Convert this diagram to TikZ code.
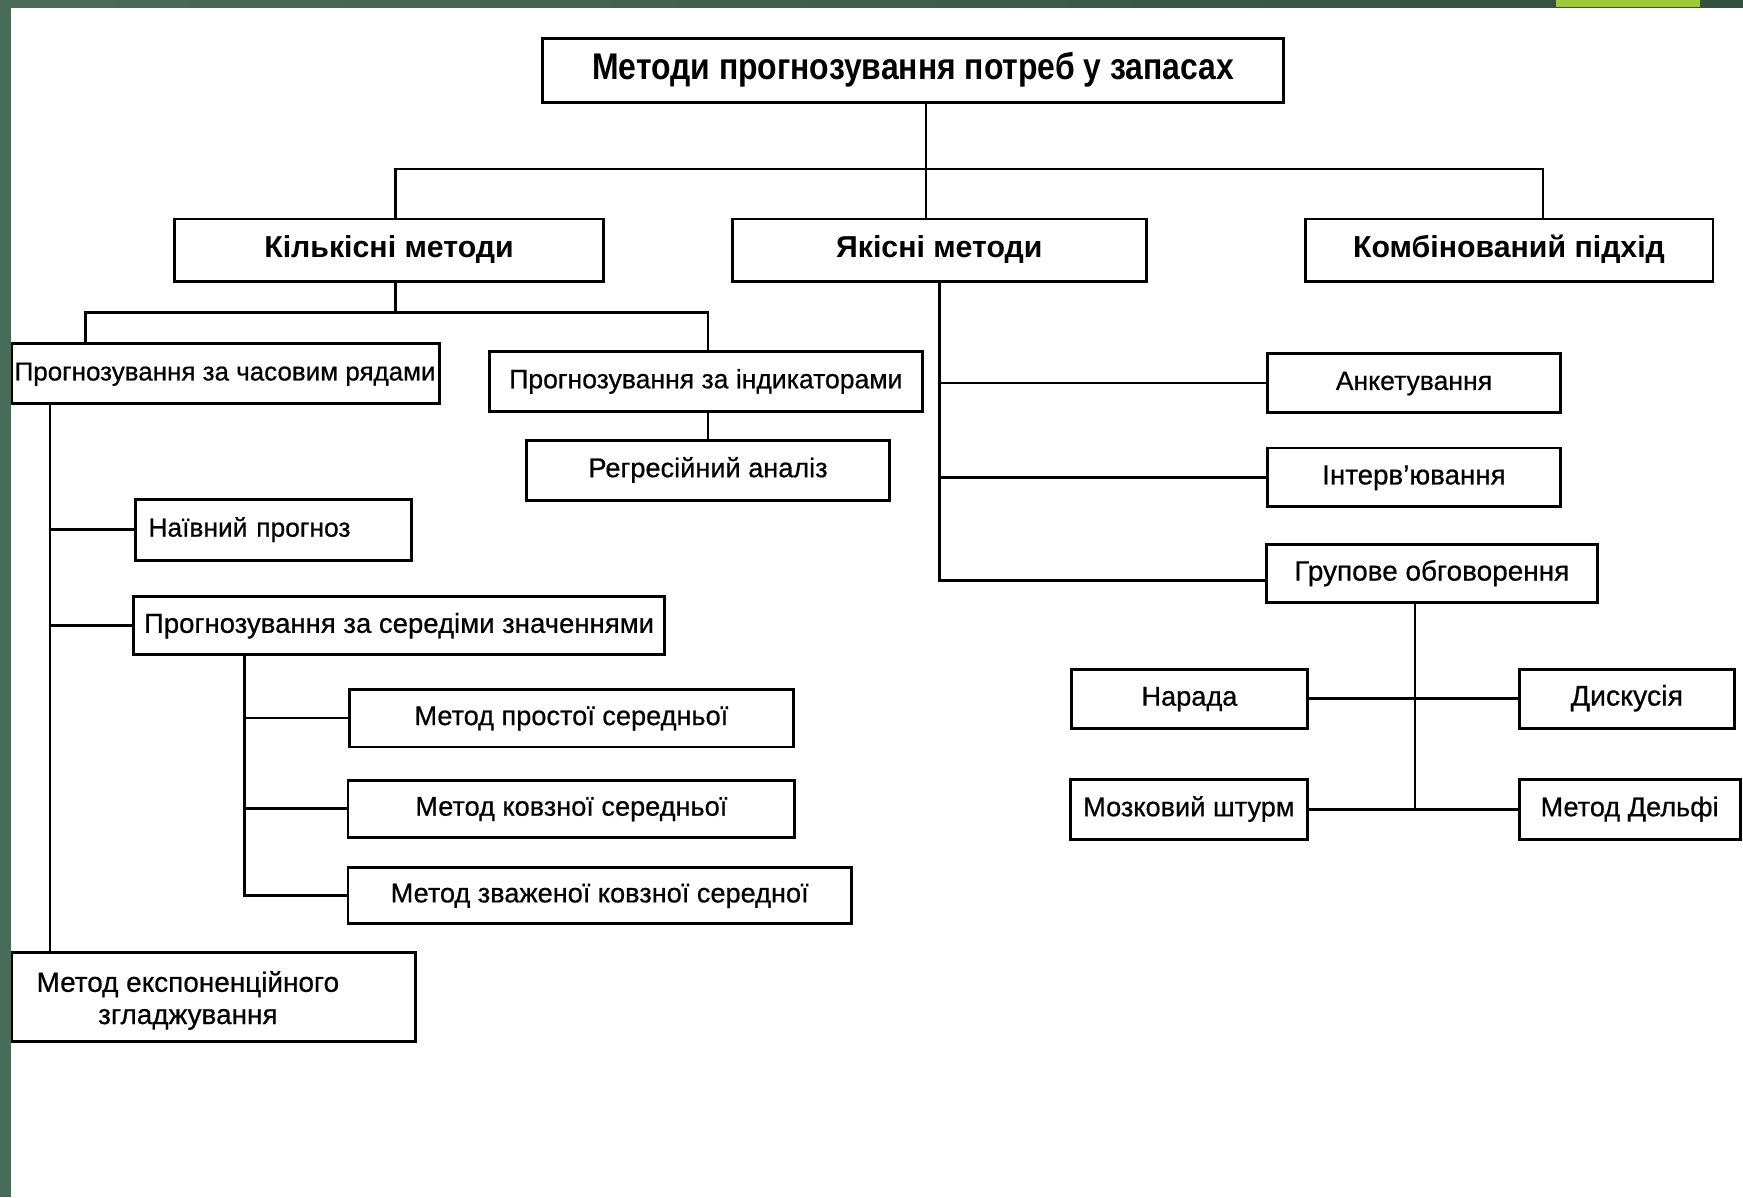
\documentclass[tikz,border=0pt]{standalone}
\usepackage{fontspec}
\setmainfont{Liberation Sans}
\newfontfamily\medfont{Liberation Sans}[FakeBold=0.6]
\newfontfamily\titlefont{Liberation Sans}[FakeStretch=0.86]
\usepackage{tikz}
\definecolor{framegreen}{HTML}{4B6B5A}
\definecolor{framedark}{HTML}{34503F}
\definecolor{barlime}{HTML}{9DC93B}

\begin{document}
\begin{tikzpicture}[x=0.02cm, y=-0.02cm]
\tikzstyle{box}=[rectangle, draw=black, line width=1.5pt, inner sep=0pt, text height=0.716em, text depth=0pt, font=\medfont\fontsize{13.9}{16.5}\selectfont]
\tikzstyle{head}=[box, font=\fontsize{15.5}{18}\selectfont\bfseries]
\tikzstyle{connect}=[line width=1.4pt, black]
  \fill[white] (0,0) rectangle (1568,1077);
  \useasboundingbox (0,0) rectangle (1568,1077);
  % top levels
  \node[head, minimum width=13.34cm, minimum height=1.14cm, text height=0.95em, font=\titlefont\fontsize{19}{21}\selectfont\bfseries] (root) at (821.5,63.5) {Методи прогнозування потреб у запасах};
  \node[head, minimum width=7.72cm, minimum height=1.12cm] (kilk) at (350,225) {Кількісні методи};
  \node[head, minimum width=7.44cm, minimum height=1.12cm] (yakis) at (845,225) {Якісні методи};
  \node[head, minimum width=7.34cm, minimum height=1.12cm] (komb) at (1357.5,225) {Комбінований підхід};
  % quantitative
  \node[box, minimum width=7.7cm, minimum height=1.08cm, font=\medfont\fontsize{13.3}{16}\selectfont] (chas) at (202.5,336) {Прогнозування за часовим рядами};
  \node[box, minimum width=7.8cm, minimum height=1.08cm, font=\medfont\fontsize{13.6}{16}\selectfont] (indyk) at (635,343) {Прогнозування за індикаторами};
  \node[box, minimum width=6.52cm, minimum height=1.08cm] (regr) at (637,423) {Регресійний аналіз};
  \node[box, minimum width=4.96cm, minimum height=1.1cm, text width=4.5cm, align=left, font=\medfont\fontsize{13.5}{16}\selectfont] (naiv) at (246,476.5) {Наївний прогноз};
  \node[box, minimum width=9.56cm, minimum height=1.04cm, font=\medfont\fontsize{14.1}{16}\selectfont] (sered) at (359,563) {Прогнозування за середіми значеннями};
  \node[box, minimum width=8cm, minimum height=1.04cm] (prost) at (514,646) {Метод простої середньої};
  \node[box, minimum width=8.04cm, minimum height=1.02cm] (kovz) at (514,727.5) {Метод ковзної середньої};
  \node[box, minimum width=9.06cm, minimum height=1.02cm] (zvazh) at (539.5,805.5) {Метод зваженої ковзної середної};
  \node[box, minimum width=7.28cm, minimum height=1.6cm,
        label={[align=center, xshift=-0.46cm, yshift=-0.06cm, font=\medfont\fontsize{14.3}{16.5}\selectfont]center:Метод експоненційного\\згладжування}] (expon) at (192,897) {};
  % qualitative
  \node[box, minimum width=5.28cm, minimum height=1.06cm, font=\medfont\fontsize{13.6}{16}\selectfont] (ank) at (1272,344.5) {Анкетування};
  \node[box, minimum width=5.28cm, minimum height=1.06cm, font=\medfont\fontsize{14.2}{16}\selectfont] (interv) at (1272,429.5) {Інтерв’ювання};
  \node[box, minimum width=5.96cm, minimum height=1.04cm, font=\medfont\fontsize{14.3}{16}\selectfont] (grup) at (1288,516) {Групове обговорення};
  \node[box, minimum width=4.24cm, minimum height=1.06cm] (narada) at (1070,628.5) {Нарада};
  \node[box, minimum width=3.86cm, minimum height=1.06cm, font=\medfont\fontsize{14.6}{16}\selectfont] (dysk) at (1463.5,628.5) {Дискусія};
  \node[box, minimum width=4.26cm, minimum height=1.08cm] (mozk) at (1069.5,728) {Мозковий штурм};
  \node[box, minimum width=3.98cm, minimum height=1.08cm] (delfi) at (1466,728) {Метод Дельфі};

  % connectors between levels
  \coordinate (kx) at (356,152);
  \coordinate (mx) at (833,152);
  \coordinate (rx) at (1388,152);
  \draw[connect] (root.south -| mx) -- (yakis.north -| mx);
  \draw[connect] (kilk.north -| kx) -- (kx) -- (rx) -- (komb.north -| rx);
  \coordinate (kb) at (356,281);
  \coordinate (chx) at (77,281);
  \coordinate (inx) at (637,281);
  \draw[connect] (kilk.south -| kb) -- (kb);
  \draw[connect] (chas.north -| chx) -- (chx) -- (inx) -- (indyk.north -| inx);
  \draw[connect] (indyk.south -| regr.north) -- (regr.north);
  % time series branch
  \coordinate (lx) at (45,0);
  \draw[connect] (chas.south -| lx) -- (expon.north -| lx);
  \draw[connect] (naiv.west -| lx) -- (naiv.west);
  \draw[connect] (sered.west -| lx) -- (sered.west);
  \coordinate (sx) at (220,0);
  \draw[connect] (sered.south -| sx) |- (zvazh.west);
  \draw[connect] (prost.west -| sx) -- (prost.west);
  \draw[connect] (kovz.west -| sx) -- (kovz.west);
  % qualitative branch
  \draw[connect] (yakis.south) |- ([yshift=-0.12cm]grup.west);
  \draw[connect] (ank.west -| yakis.south) -- (ank.west);
  \draw[connect] (interv.west -| yakis.south) -- (interv.west);
  \coordinate (gx) at (1273,0);
  \draw[connect] (grup.south -| gx) -- (mozk.east -| gx);
  \draw[connect] (narada.east) -- (dysk.west);
  \draw[connect] (mozk.east) -- (delfi.west);

  % slide frame
  \fill[framegreen] (0,0) rectangle (10,1077);
  \shade[left color=framegreen, right color=framedark] (0,0) rectangle (1568,7);
  \fill[barlime] (1400,0) rectangle (1529,6);
\end{tikzpicture}
\end{document}
